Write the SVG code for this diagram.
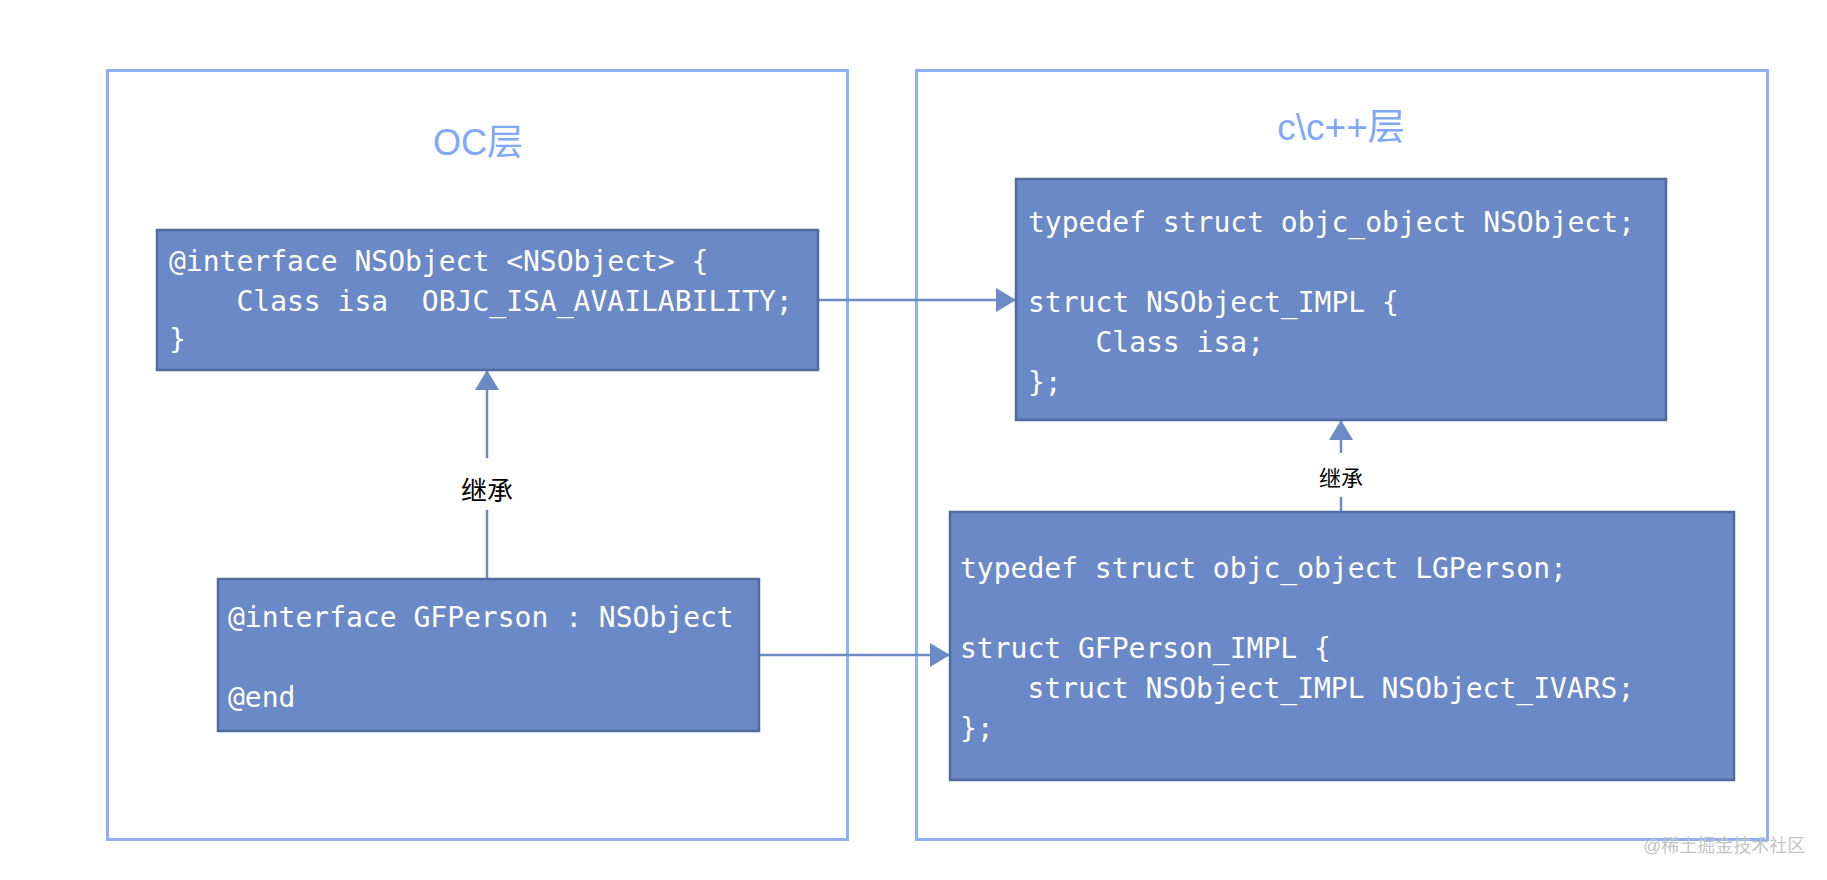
<svg xmlns="http://www.w3.org/2000/svg" width="1827" height="880" viewBox="0 0 1827 880">
<style>
.layer{fill:none;stroke:#8fb0f5;stroke-width:3}
.title{font-family:"Liberation Sans","Noto Sans CJK SC",sans-serif;fill:#80a8f8;text-anchor:middle}
.node{fill:#6a89c6;stroke:#4f6ba0;stroke-width:2.5}
.code{font-family:"DejaVu Sans Mono","Liberation Mono",monospace;font-size:28px;fill:#ffffff;white-space:pre}
.edge{fill:none;stroke:#6c8ac6;stroke-width:2.5}
.lbl{font-family:"Liberation Sans","Noto Sans CJK SC",sans-serif;fill:#000000;text-anchor:middle}
.wm{font-family:"Liberation Sans","Noto Sans CJK SC",sans-serif;font-size:18px;fill:#c4c4c4}
</style>
<defs>
<marker id="arr" viewBox="0 0 20 24" refX="20" refY="12" markerWidth="20" markerHeight="24" markerUnits="userSpaceOnUse" orient="auto">
<path d="M0,0 L20,12 L0,24 Z" fill="#6c8ac6"/>
</marker>
</defs>
<rect width="1827" height="880" fill="#ffffff"/>
<g id="oc-layer">
<rect class="layer" x="107.5" y="70.5" width="740" height="769"/>
<text class="title" x="478" y="155" font-size="36">OC层</text>
</g>
<g id="c-layer">
<rect class="layer" x="916.5" y="70.5" width="851" height="769"/>
<text class="title" x="1341" y="140" font-size="37">c\c++层</text>
</g>
<g id="connectors">
<path class="edge" d="M487,579 V510 M487,458 V370" marker-end="url(#arr)"/>
<path class="edge" d="M818,300 H1016" marker-end="url(#arr)"/>
<path class="edge" d="M759,655 H950" marker-end="url(#arr)"/>
<path class="edge" d="M1341,512 V497 M1341,453 V420" marker-end="url(#arr)"/>
<text class="lbl" x="487" y="500" font-size="26">继承</text>
<text class="lbl" x="1341" y="486" font-size="22">继承</text>
</g>
<g id="oc-nsobject">
<rect class="node" x="157" y="230" width="661" height="140"/>
<text class="code" x="169" y="271">@interface NSObject &lt;NSObject&gt; {</text>
<text class="code" x="169" y="311">    Class isa  OBJC_ISA_AVAILABILITY;</text>
<text class="code" x="169" y="349">}</text>
</g>
<g id="oc-gfperson">
<rect class="node" x="218" y="579" width="541" height="152"/>
<text class="code" x="228" y="627">@interface GFPerson : NSObject</text>
<text class="code" x="228" y="707">@end</text>
</g>
<g id="c-nsobject">
<rect class="node" x="1016" y="179" width="650" height="241"/>
<text class="code" x="1028" y="232">typedef struct objc_object NSObject;</text>
<text class="code" x="1028" y="312">struct NSObject_IMPL {</text>
<text class="code" x="1028" y="352">    Class isa;</text>
<text class="code" x="1028" y="392">};</text>
</g>
<g id="c-gfperson">
<rect class="node" x="950" y="512" width="784" height="268"/>
<text class="code" x="960" y="578">typedef struct objc_object LGPerson;</text>
<text class="code" x="960" y="658">struct GFPerson_IMPL {</text>
<text class="code" x="960" y="698">    struct NSObject_IMPL NSObject_IVARS;</text>
<text class="code" x="960" y="738">};</text>
</g>
<text class="wm" x="1643" y="852">@稀土掘金技术社区</text>
</svg>
